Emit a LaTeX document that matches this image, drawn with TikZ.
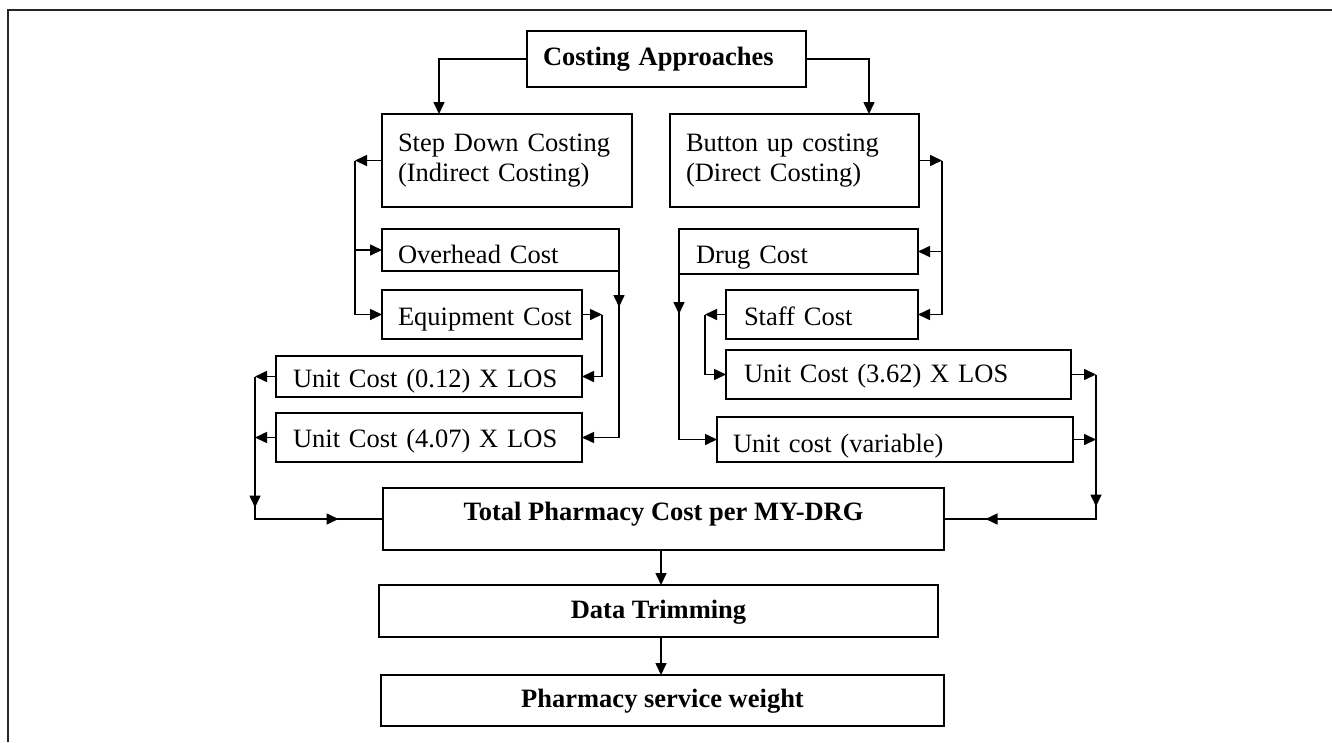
\documentclass[tikz,border=0pt]{standalone}
\usepackage{fontspec}
\setmainfont{Liberation Serif}
\usetikzlibrary{arrows.meta,decorations.markings}
\newcommand\baseat[2]{\raisebox{-#1}[0pt][0pt]{#2}}
\tikzset{
  box/.style={draw, line width=1.6pt, inner ysep=0pt, inner xsep=16pt, outer sep=0pt,
    font=\fontsize{26.5pt}{30pt}\selectfont},
  lbox/.style={box, align=left},
  bbox/.style={box, align=center, font=\fontsize{26.5pt}{30pt}\selectfont\bfseries},
  tipA/.tip={Triangle[length=12pt,width=11pt]},
  arr/.style={line width=1.6pt, -tipA},
  ln/.style={line width=1.6pt},
  midone/.style={ln, postaction={decorate},
    decoration={markings, mark=at position #1 with {\arrow{tipA}}}},
  midtwo/.style 2 args={ln, postaction={decorate},
    decoration={markings, mark=at position #1 with {\arrow{tipA}},
      mark=at position #2 with {\arrow{tipA}}}},
}
\begin{document}
\begin{tikzpicture}[x=1pt,y=-1pt]
\useasboundingbox (0,0) rectangle (1332,742);
% frame
\draw[line width=2pt, black!85] (8,742) -- (8,10) -- (1332,10);

% boxes
\node[lbox, bbox, align=left, minimum width=279pt, minimum height=56pt, text width=247pt] (ca) at (666.5,59) {\baseat{6pt}{Costing Approaches}};
\node[lbox, minimum width=250pt, minimum height=93pt, text width=218pt] (sd) at (507,160.5) {Step Down Costing\\(Indirect Costing)};
\node[lbox, minimum width=249pt, minimum height=93pt, text width=217pt] (bu) at (794.5,160.5) {Button up costing\\(Direct Costing)};
\node[lbox, minimum width=237pt, minimum height=42pt, text width=205pt] (oh) at (500.5,250) {\baseat{13pt}{Overhead Cost}};
\node[lbox, minimum width=200pt, minimum height=49pt, text width=168pt] (eq) at (482,314.5) {\baseat{10.5pt}{\mbox{Equipment Cost}}};
\node[lbox, inner xsep=17pt, minimum width=306pt, minimum height=41pt, text width=272pt] (u012) at (429,376.5) {\baseat{10.5pt}{Unit Cost (0.12) X LOS}};
\node[lbox, inner xsep=17pt, minimum width=306pt, minimum height=49pt, text width=272pt] (u407) at (429,437.5) {\baseat{9.5pt}{Unit Cost (4.07) X LOS}};
\node[lbox, inner xsep=17pt, minimum width=239pt, minimum height=45pt, text width=205pt] (dc) at (798.5,251.5) {\baseat{11.5pt}{Drug Cost}};
\node[lbox, inner xsep=18pt, minimum width=192pt, minimum height=49pt, text width=156pt] (sc) at (822,314.5) {\baseat{10.5pt}{Staff Cost}};
\node[lbox, inner xsep=18pt, minimum width=345pt, minimum height=49pt, text width=309pt] (u362) at (898.5,374.5) {\baseat{7.5pt}{Unit Cost (3.62) X LOS}};
\node[lbox, inner xsep=16pt, minimum width=356pt, minimum height=45pt, text width=324pt] (uv) at (895,439.5) {\baseat{12.5pt}{Unit cost (variable)}};
\node[bbox, minimum width=561pt, minimum height=62pt] (tot) at (663.5,519) {\baseat{1pt}{Total Pharmacy Cost per MY-DRG}};
\node[bbox, minimum width=559pt, minimum height=52pt] (dt) at (658.5,611) {\baseat{7pt}{Data Trimming}};
\node[bbox, minimum width=563pt, minimum height=51pt] (psw) at (662.5,700.5) {\baseat{6.5pt}{Pharmacy service weight}};

% top connectors
\draw[arr] (ca.west) -| ([xshift=57pt]sd.north west);
\draw[arr] (ca.east) -| ([xshift=199pt]bu.north west);

% left side
\coordinate (lj) at (355,160.5);
\draw[arr] (sd.west) -- (lj);
\draw[arr] (lj) |- (oh.west);
\draw[arr] (lj) |- (eq.west);
\draw[arr, midone=36pt] (oh.south east) |- (u407.east);
\coordinate (ej) at (602,314.5);
\draw[arr] (eq.east) -- (ej);
\draw[arr] (ej) |- (u012.east);
\coordinate (lb) at (255,376.5);
\draw[arr] (u012.west) -- (lb);
\draw[arr] (u407.west) -- (lb |- u407.west);
\draw[midtwo={131pt}{226pt}] (lb) |- (tot.west);

% right side
\coordinate (rj) at (942,160.5);
\draw[arr] (bu.east) -- (rj);
\draw[arr] (rj) |- (dc.east);
\draw[arr] (rj) |- (sc.east);
\draw[arr, midone=40pt] (dc.south west) |- (uv.west);
\coordinate (sj) at (705,314.5);
\draw[arr] (sc.west) -- (sj);
\draw[arr] (sj) |- (u362.west);
\coordinate (rb) at (1096,374.5);
\draw[arr] (u362.east) -- (rb);
\draw[arr] (uv.east) -- (rb |- uv.east);
\draw[midtwo={132pt}{255pt}] (rb) |- (tot.east);

% bottom
\coordinate (ax) at (661,0);
\draw[arr] (tot.south -| ax) -- (dt.north -| ax);
\draw[arr] (dt.south -| ax) -- (psw.north -| ax);
\end{tikzpicture}
\end{document}
